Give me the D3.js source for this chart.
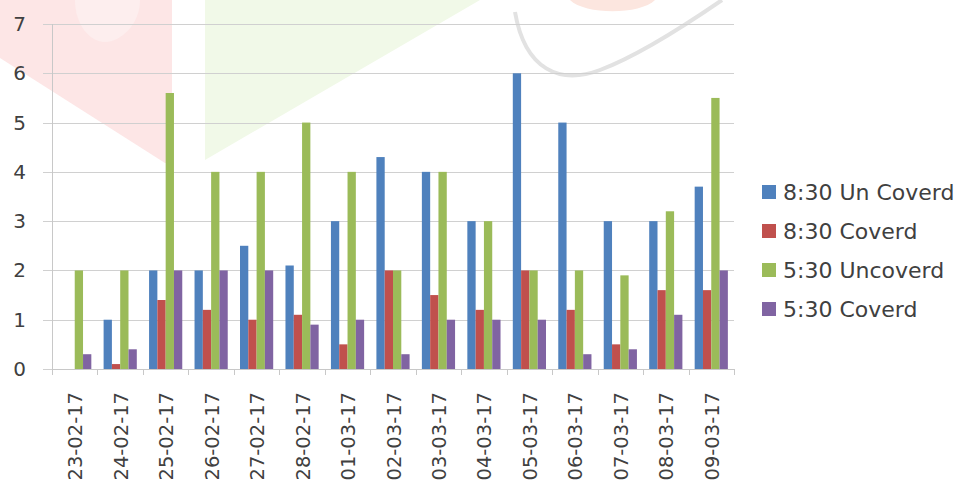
<!DOCTYPE html>
<html>
<head>
<meta charset="utf-8">
<script src="https://cdn.jsdelivr.net/npm/d3@7/dist/d3.min.js"></script>
<style>
  html, body { margin: 0; padding: 0; background: #fff; }
  svg { display: block; }
  text { font-family: "DejaVu Sans", "Open Sans", sans-serif; fill: #404040; }
</style>
</head>
<body>
<svg id="chart" width="955" height="486"></svg>
<script>
const dates = ["23-02-17","24-02-17","25-02-17","26-02-17","27-02-17","28-02-17","01-03-17","02-03-17","03-03-17","04-03-17","05-03-17","06-03-17","07-03-17","08-03-17","09-03-17"];
const seriesNames = ["8:30 Un Coverd","8:30 Coverd","5:30 Uncoverd","5:30 Coverd"];
const unCovered830 = [0, 1, 2, 2, 2.5, 2.1, 3, 4.3, 4, 3, 6, 5, 3, 3, 3.7];
const covered830   = [0, 0.1, 1.4, 1.2, 1, 1.1, 0.5, 2, 1.5, 1.2, 2, 1.2, 0.5, 1.6, 1.6];
const unCovered530 = [2, 2, 5.6, 4, 4, 5, 4, 2, 4, 3, 2, 2, 1.9, 3.2, 5.5];
const covered530   = [0.3, 0.4, 2, 2, 2, 0.9, 1, 0.3, 1, 1, 1, 0.3, 0.4, 1.1, 2];
const yTicks = [0, 1, 2, 3, 4, 5, 6, 7];
const colors = ["#4F81BD", "#C0504D", "#9BBB59", "#8064A2"];

(function () {
const seriesValues = [unCovered830, covered830, unCovered530, covered530];
const svg = d3.select("#chart");

// faint watermark shapes (background decoration)
const wm = svg.append("g");
wm.append("path").attr("d", "M0,0 L172,0 L172,163 L165,163 L0,58 Z").attr("fill", "#fde6e6");
wm.append("path").attr("d", "M75,0 L140,0 C140,25 120,42 105,42 C90,42 75,25 75,0 Z").attr("fill", "#fdeeee");
wm.append("path").attr("d", "M205,0 L480,0 L205,160 Z").attr("fill", "#f1f9e8");
wm.append("path").attr("d", "M515,12 C525,70 560,85 600,70 C640,55 690,22 722,0").attr("fill", "none")
  .attr("stroke", "#e2e2e2").attr("stroke-width", 4);
wm.append("path").attr("d", "M570,0 C585,15 640,15 655,0 Z").attr("fill", "#fce6df");

const mLeft = 52, mRight = 734, mTop = 24, mBottom = 369;
const x = d3.scaleBand().domain(dates).range([mLeft, mRight]).padding(0);
const x1 = d3.scaleBand().domain(seriesNames)
  .range([x.bandwidth() * 0.135, x.bandwidth() * 0.865]).padding(0);
const y = d3.scaleLinear().domain([0, 7]).range([mBottom, mTop]);

// gridlines
svg.append("g").selectAll("line").data(yTicks).join("line")
  .attr("x1", mLeft - 9).attr("x2", mRight)
  .attr("y1", d => Math.round(y(d)) + 0.5).attr("y2", d => Math.round(y(d)) + 0.5)
  .attr("stroke", "#d0d0d0").attr("stroke-width", 1);

// y axis line
svg.append("line").attr("x1", mLeft + 0.5).attr("x2", mLeft + 0.5)
  .attr("y1", mTop).attr("y2", mBottom + 6).attr("stroke", "#c8c8c8");

// bars
const groups = svg.append("g").selectAll("g").data(dates).join("g")
  .attr("transform", d => `translate(${x(d)},0)`);
groups.selectAll("rect")
  .data((d, i) => seriesNames.map((s, k) => ({ s, k, v: seriesValues[k][i] })))
  .join("rect")
  .attr("x", d => x1(d.s))
  .attr("width", x1.bandwidth())
  .attr("y", d => y(d.v))
  .attr("height", d => y(0) - y(d.v))
  .attr("fill", d => colors[d.k]);

// x axis
const xAxisG = svg.append("g").attr("transform", `translate(0,${mBottom})`);
xAxisG.append("line").attr("x1", mLeft).attr("x2", mRight)
  .attr("y1", 0.5).attr("y2", 0.5).attr("stroke", "#c8c8c8");
const boundaries = dates.map(d => x(d)).concat([mRight]);
xAxisG.selectAll("line.tk").data(boundaries).join("line").attr("class", "tk")
  .attr("x1", d => Math.round(d) + 0.5).attr("x2", d => Math.round(d) + 0.5)
  .attr("y1", 0).attr("y2", 6).attr("stroke", "#c8c8c8");

svg.append("g").selectAll("text").data(dates).join("text")
  .attr("transform", d => `translate(${x(d) + x.bandwidth() / 2 + 1},392) rotate(-90)`)
  .attr("text-anchor", "end")
  .attr("dominant-baseline", "central")
  .attr("font-size", 19.5)
  .text(d => d);

// y labels
svg.append("g").selectAll("text").data(yTicks).join("text")
  .attr("x", 26).attr("y", d => y(d))
  .attr("text-anchor", "end")
  .attr("dominant-baseline", "central")
  .attr("font-size", 20)
  .text(d => d);

// legend
const leg = svg.append("g").selectAll("g").data(seriesNames).join("g")
  .attr("transform", (d, i) => `translate(762,${192 + i * 39})`);
leg.append("rect").attr("x", 0).attr("y", -7).attr("width", 14).attr("height", 14)
  .attr("fill", (d, i) => colors[i]);
leg.append("text").attr("x", 21).attr("y", 0)
  .attr("dominant-baseline", "central")
  .attr("font-size", 22)
  .text(d => d);
})();
</script>
</body>
</html>
